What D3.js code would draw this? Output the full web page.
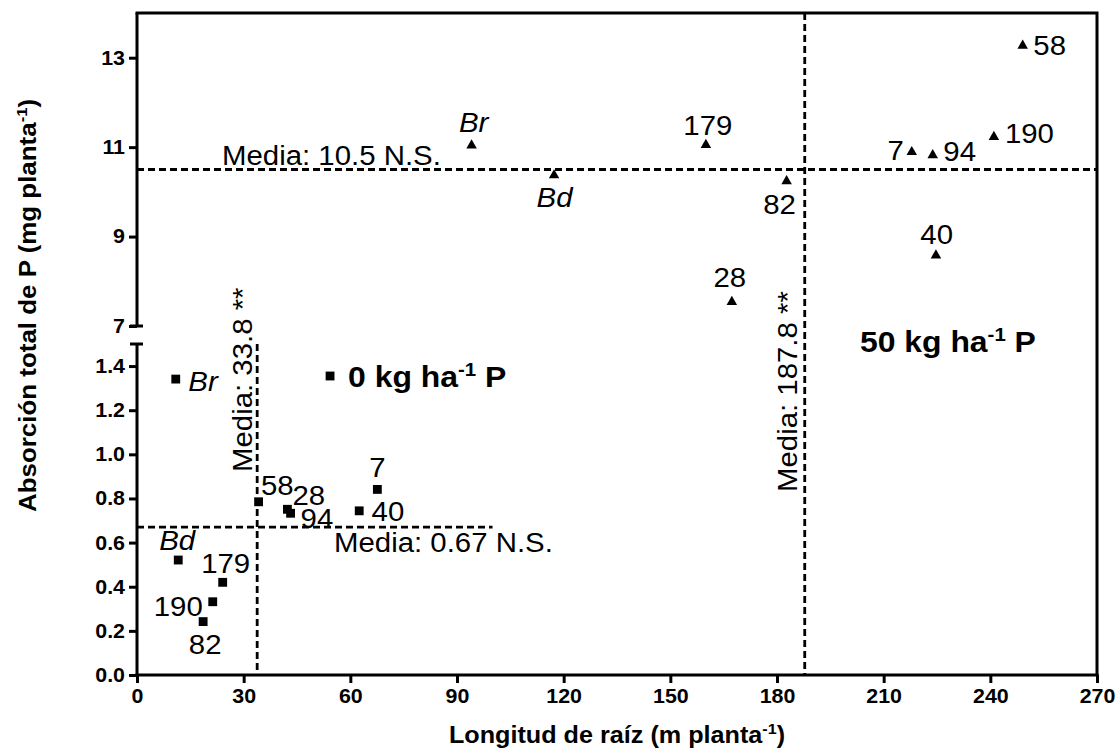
<!DOCTYPE html>
<html>
<head>
<meta charset="utf-8">
<script src="https://cdn.jsdelivr.net/npm/d3@7"></script>
<style>
  html, body { margin: 0; padding: 0; background: #fff; }
  svg { display: block; font-family: "Liberation Sans", Arial, sans-serif; }
</style>
</head>
<body>
<svg id="chart" width="1120" height="752"></svg>
<script>
// ---------------- DATA ----------------
const xTicks = [0, 30, 60, 90, 120, 150, 180, 210, 240, 270];
const yTicksLow = [0.0, 0.2, 0.4, 0.6, 0.8, 1.0, 1.2, 1.4];
const yTicksHigh = [7, 9, 11, 13];

// 0 kg ha-1 P (squares)
const genotypes0 = ["Br", "Bd", "179", "190", "82", "58", "28", "94", "40", "7"];
const rootLen0   = [10.9, 11.6, 24.1, 21.3, 18.6, 34.2, 42.3, 43.2, 62.5, 67.6];
const pUptake0   = [1.341, 0.521, 0.42, 0.332, 0.242, 0.785, 0.751, 0.733, 0.744, 0.841];

// 50 kg ha-1 P (triangles)
const genotypes50 = ["Br", "Bd", "179", "82", "28", "7", "94", "190", "58", "40"];
const rootLen50   = [94.1, 117.3, 160.0, 182.7, 167.3, 217.9, 223.8, 241.0, 249.1, 224.7];
const pUptake50   = [11.04, 10.37, 11.05, 10.24, 7.54, 10.89, 10.82, 11.23, 13.27, 8.58];

const meanX0 = 33.8, meanY0 = 0.67, meanX50 = 187.8, meanY50 = 10.5;
const meanTexts = ["Media: 10.5 N.S.", "Media: 0.67 N.S.", "Media: 33.8 **", "Media: 187.8 **"];
const italicNames = ["Br", "Bd"];

// ---------------- LABEL LAYOUT (pixel offsets from marker) ----------------
const layout0 = {
  "Br": [12.6, 12, "start"], "Bd": [-1, -10, "middle"], "179": [3, -9, "middle"],
  "190": [-10, 14, "end"], "82": [2, 32, "middle"], "58": [2.3, -6.7, "start"],
  "28": [5, -4.5, "start"], "94": [10, 14.5, "start"], "40": [12.4, 10, "start"],
  "7": [0, -12, "middle"]
};
const layout50 = {
  "Br": [2, -13, "middle"], "Bd": [0.5, 32, "middle"], "179": [2, -9.5, "middle"],
  "82": [-7, 33, "middle"], "28": [-2, -15, "middle"], "7": [-8, 8.3, "end"],
  "94": [10.6, 5.7, "start"], "190": [11, 6.6, "start"], "58": [10.6, 9, "start"],
  "40": [0.7, -11.7, "middle"]
};

// ---------------- SCALES ----------------
const pLeft = 137, pRight = 1097, pTop = 13, pBottom = 675;
const x = d3.scaleLinear().domain([0, 270]).range([pLeft, pRight]);
const yLow = d3.scaleLinear().domain([0, 1.5]).range([pBottom, 344]);
const yHigh = d3.scaleLinear().domain([7, 14]).range([326, pTop]);

const svg = d3.select("#chart");
const black = "#000";
const FONT = "'Liberation Sans', Arial, sans-serif";

// text helper: position, optional rotation, horizontal stretch in text space
function placeText(px, py, rot, sx) {
  return `translate(${px},${py})` + (rot ? ` rotate(${rot})` : "") + ` scale(${sx},1)`;
}

// ---------------- AXES ----------------
const xAxis = d3.axisBottom(x).tickValues(xTicks).tickSize(8).tickPadding(6).tickSizeOuter(0)
  .tickFormat(d3.format("d"));
const gx = svg.append("g").attr("transform", `translate(0,${pBottom})`).call(xAxis);

const gyl = svg.append("g").attr("transform", `translate(${pLeft},0)`)
  .call(d3.axisLeft(yLow).tickValues(yTicksLow).tickSize(8).tickPadding(4).tickSizeOuter(0)
    .tickFormat(d3.format(".1f")));
const gyh = svg.append("g").attr("transform", `translate(${pLeft},0)`)
  .call(d3.axisLeft(yHigh).tickValues(yTicksHigh).tickSize(8).tickPadding(4).tickSizeOuter(0)
    .tickFormat(d3.format("d")));

[gx, gyl, gyh].forEach(g => {
  g.select(".domain").attr("stroke", black).attr("stroke-width", 3);
  g.selectAll(".tick line").attr("stroke", black).attr("stroke-width", 3);
  g.selectAll(".tick text").attr("fill", black).attr("font-size", 20).attr("font-weight", "bold")
    .attr("font-family", FONT);
});
// stretch tick labels slightly (reference glyphs are a bit wider)
gx.selectAll(".tick text").each(function () {
  const t = d3.select(this);
  const yy = +t.attr("y");
  t.attr("transform", `translate(0,${yy}) scale(1.07,1)`).attr("y", 0);
});
[gyl, gyh].forEach(g => g.selectAll(".tick text").each(function () {
  const t = d3.select(this);
  const xx = +t.attr("x");
  t.attr("transform", `translate(${xx},0) scale(1.07,1)`).attr("x", 0);
}));
gyh.select(".domain").remove();
gyl.select(".domain").remove();
gx.select(".domain").attr("d", `M${pLeft - 1.5},0H${pRight + 1.5}`);

// y-axis segments with break caps
svg.append("line").attr("x1", pLeft).attr("x2", pLeft).attr("y1", yHigh.range()[1]).attr("y2", yHigh.range()[0])
  .attr("stroke", black).attr("stroke-width", 3);
svg.append("line").attr("x1", pLeft).attr("x2", pLeft).attr("y1", yLow.range()[1]).attr("y2", yLow.range()[0] + 1.5)
  .attr("stroke", black).attr("stroke-width", 3);
svg.append("line").attr("x1", pLeft - 7).attr("x2", pLeft + 6).attr("y1", yHigh.range()[0]).attr("y2", yHigh.range()[0])
  .attr("stroke", black).attr("stroke-width", 3);
svg.append("line").attr("x1", pLeft - 7).attr("x2", pLeft + 6).attr("y1", yLow.range()[1]).attr("y2", yLow.range()[1])
  .attr("stroke", black).attr("stroke-width", 3);

// frame (top, right)
svg.append("path").attr("d", `M${pLeft - 1.5},${pTop}H${pRight}V${pBottom}`)
  .attr("fill", "none").attr("stroke", black).attr("stroke-width", 3);

// ---------------- MEAN LINES ----------------
const dash = "7,4";
const dw = 2.8;
svg.append("line").attr("x1", x(0)).attr("x2", x(270)).attr("y1", yHigh(meanY50)).attr("y2", yHigh(meanY50))
  .attr("stroke", black).attr("stroke-width", dw).attr("stroke-dasharray", dash);
svg.append("line").attr("x1", x(meanX50)).attr("x2", x(meanX50)).attr("y1", pTop).attr("y2", pBottom)
  .attr("stroke", black).attr("stroke-width", dw).attr("stroke-dasharray", dash);
svg.append("line").attr("x1", x(0)).attr("x2", x(100)).attr("y1", yLow(meanY0)).attr("y2", yLow(meanY0))
  .attr("stroke", black).attr("stroke-width", dw).attr("stroke-dasharray", dash);
svg.append("line").attr("x1", x(meanX0)).attr("x2", x(meanX0)).attr("y1", yLow(1.5)).attr("y2", pBottom)
  .attr("stroke", black).attr("stroke-width", dw).attr("stroke-dasharray", dash);

const annSize = 28;
const annSx = 1.05;
svg.append("text").attr("transform", placeText(222, 165, 0, annSx)).attr("font-size", annSize).text(meanTexts[0]);
svg.append("text").attr("transform", placeText(334, 552, 0, annSx)).attr("font-size", annSize).text(meanTexts[1]);
svg.append("text").attr("transform", placeText(251.5, 472, -90, annSx)).attr("font-size", annSize).text(meanTexts[2]);
svg.append("text").attr("transform", placeText(796.5, 492, -90, annSx)).attr("font-size", annSize).text(meanTexts[3]);

// ---------------- POINTS ----------------
const sq = d3.symbol().type(d3.symbolSquare).size(78);
const tri = d3.symbol().type(d3.symbolTriangle).size(48);

const d0 = genotypes0.map((g, i) => ({ g, x: rootLen0[i], y: pUptake0[i] }));
const d50 = genotypes50.map((g, i) => ({ g, x: rootLen50[i], y: pUptake50[i] }));

svg.append("g").selectAll("path").data(d0).join("path")
  .attr("d", sq).attr("fill", black)
  .attr("transform", d => `translate(${x(d.x)},${yLow(d.y)})`);
svg.append("g").selectAll("path").data(d50).join("path")
  .attr("d", tri).attr("fill", black)
  .attr("transform", d => `translate(${x(d.x)},${yHigh(d.y)})`);

function labels(data, ys, lay) {
  svg.append("g").selectAll("text").data(data).join("text")
    .attr("transform", d => placeText(x(d.x) + lay[d.g][0], ys(d.y) + lay[d.g][1], 0, annSx))
    .attr("text-anchor", d => lay[d.g][2])
    .attr("font-size", annSize)
    .attr("font-style", d => italicNames.includes(d.g) ? "italic" : "normal")
    .text(d => d.g);
}
labels(d0, yLow, layout0);
labels(d50, yHigh, layout50);

// ---------------- LEGEND-LIKE LABELS ----------------
const legendX0 = 54.3, legendY0 = 1.355;
svg.append("path").attr("d", sq).attr("fill", black)
  .attr("transform", `translate(${x(legendX0)},${yLow(legendY0)})`);
function supText(sel, a, sup, b) {
  sel.append("tspan").text(a);
  sel.append("tspan").attr("font-size", "0.64em").attr("dy", "-0.6em").text(sup);
  sel.append("tspan").attr("dy", "0.384em").text(b);
}
const leg0 = svg.append("text").attr("transform", placeText(x(legendX0) + 18, yLow(legendY0) + 11, 0, 1.1))
  .attr("font-size", 29).attr("font-weight", "bold");
supText(leg0, "0 kg ha", "-1", " P");
const leg50 = svg.append("text").attr("transform", placeText(860, 352, 0, 1.1))
  .attr("font-size", 29).attr("font-weight", "bold");
supText(leg50, "50 kg ha", "-1", " P");

// ---------------- AXIS TITLES ----------------
const xt = svg.append("text").attr("transform", placeText((pLeft + pRight) / 2, 743, 0, 1.05))
  .attr("text-anchor", "middle").attr("font-size", 24).attr("font-weight", "bold");
supText(xt, "Longitud de raíz (m planta", "-1", ")");
const yt = svg.append("text").attr("transform", placeText(36, 512, -90, 1.08)).attr("text-anchor", "start")
  .attr("font-size", 24).attr("font-weight", "bold");
supText(yt, "Absorción total de P (mg planta", "-1", ")");
</script>
</body>
</html>
